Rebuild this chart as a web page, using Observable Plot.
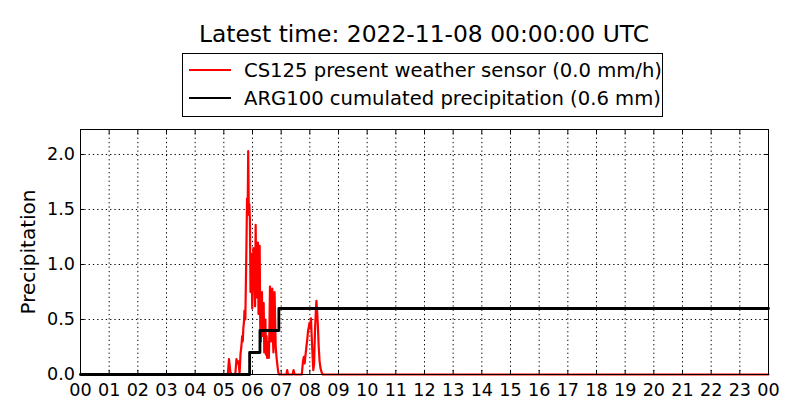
<!DOCTYPE html>
<html>
<head>
<meta charset="utf-8">
<script src="https://cdn.jsdelivr.net/npm/d3@7"></script>
<script src="https://cdn.jsdelivr.net/npm/@observablehq/plot@0.6"></script>
<style>
  body { margin: 0; background: #fff; font-family: "DejaVu Sans", sans-serif; }
  #wrap { position: relative; width: 800px; height: 420px; overflow: hidden; }
  #title { position: absolute; left: 80px; width: 688px; top: 20px; text-align: center; font-size: 23.4px; color: #000; white-space: nowrap; }
  #legend { position: absolute; left: 182px; top: 53px; width: 479px; height: 62px; border: 1px solid #000; background: #fff; }
  .row { position: absolute; left: 0; height: 28px; font-size: 19.6px; white-space: nowrap; display: flex; align-items: center; }
  .sw { width: 42px; height: 2.6px; margin-left: 6px; margin-right: 13px; }
  #chart { position: absolute; left: 0; top: 120px; }
</style>
</head>
<body>
<div id="wrap">
  <div id="title"></div>
  <div id="legend"></div>
  <div id="chart"></div>
</div>
<script>
const titleText = "Latest time: 2022-11-08 00:00:00 UTC";
const seriesNames = ["CS125 present weather sensor (0.0 mm/h)", "ARG100 cumulated precipitation (0.6 mm)"];
const seriesColors = ["red", "black"];
const yLabel = "Precipitation";
const xTicks = d3.range(0, 25);
const yTicks = [0, 0.5, 1.0, 1.5, 2.0];

// CS125 present weather sensor intensity (mm/h), hour of day
const redHours = [0, 5.14, 5.18, 5.23, 5.28, 5.40, 5.44, 5.48, 5.51, 5.55, 5.58, 5.61, 5.64, 5.66, 5.68, 5.70, 5.72, 5.75, 5.77, 5.79, 5.81, 5.83, 5.85, 5.87, 5.89, 5.91, 5.93, 5.95, 5.97, 5.99, 6.01, 6.03, 6.05, 6.07, 6.09, 6.11, 6.13, 6.15, 6.17, 6.19, 6.21, 6.23, 6.25, 6.27, 6.29, 6.31, 6.33, 6.35, 6.37, 6.39, 6.41, 6.43, 6.45, 6.47, 6.49, 6.51, 6.53, 6.55, 6.57, 6.59, 6.61, 6.63, 6.65, 6.67, 6.69, 6.71, 6.73, 6.75, 6.77, 6.79, 6.81, 6.84, 6.87, 6.90, 6.93, 7.18, 7.21, 7.24, 7.40, 7.43, 7.47, 7.72, 7.76, 7.79, 7.82, 7.85, 7.88, 7.91, 7.94, 7.97, 7.99, 8.01, 8.04, 8.06, 8.09, 8.12, 8.15, 8.18, 8.21, 8.23, 8.26, 8.28, 8.31, 8.34, 8.37, 8.41, 8.45, 24];
const redValues = [0, 0, 0.14, 0.02, 0, 0, 0.14, 0.10, 0.12, 0.01, 0.18, 0.25, 0.35, 0.30, 0.42, 0.47, 0.58, 0.50, 0.85, 1.20, 1.60, 1.45, 2.03, 1.50, 1.55, 1.40, 0.75, 1.10, 0.95, 0.60, 0.85, 1.15, 0.80, 0.95, 0.62, 1.36, 0.90, 0.70, 1.05, 1.20, 0.55, 0.85, 1.17, 0.45, 0.30, 0.60, 0.75, 0.35, 0.55, 0.65, 0.20, 0.35, 0.50, 0.18, 0.35, 0.15, 0.30, 0.22, 0.15, 0.40, 0.80, 0.65, 0.30, 0.55, 0.78, 0.35, 0.20, 0.45, 0.75, 0.50, 0.25, 0.15, 0.08, 0.02, 0, 0, 0.04, 0, 0, 0.04, 0, 0, 0.12, 0.16, 0.10, 0.18, 0.25, 0.32, 0.40, 0.44, 0.47, 0.42, 0.51, 0.38, 0.20, 0.04, 0.10, 0.40, 0.58, 0.67, 0.55, 0.45, 0.25, 0.12, 0.06, 0.02, 0, 0];

// ARG100 cumulated precipitation (mm)
const blackHours = [0, 5.90, 6.26, 6.92, 24];
const blackValues = [0, 0.2, 0.4, 0.6, 0.6];

const red = redHours.map((h, i) => ({h, v: redValues[i]}));
const black = blackHours.map((h, i) => ({h, v: blackValues[i]}));

document.getElementById("title").textContent = titleText;
const leg = document.getElementById("legend");
seriesNames.forEach((name, i) => {
  const row = document.createElement("div");
  row.className = "row";
  row.style.top = (2 + i * 28) + "px";
  const sw = document.createElement("div");
  sw.className = "sw";
  sw.style.background = seriesColors[i];
  const t = document.createElement("span");
  t.textContent = name;
  row.appendChild(sw); row.appendChild(t);
  leg.appendChild(row);
});

const fmtX = d => String(d % 24).padStart(2, "0");
const fmtY = d3.format(".1f");
const grid = {stroke: "black", strokeOpacity: 1, strokeWidth: 1, strokeDasharray: "1.3,3"};

const plot = Plot.plot({
  width: 800,
  height: 300,
  marginTop: 9,
  marginBottom: 46,
  marginLeft: 80,
  marginRight: 32,
  style: {fontFamily: "DejaVu Sans", fontSize: "17.6px", color: "black", background: "white"},
  x: {domain: [0, 24]},
  y: {domain: [0, 2.227]},
  marks: [
    Plot.gridX(xTicks.slice(1, -1), grid),
    Plot.gridY(yTicks.slice(1), grid),
    Plot.line(red, {x: "h", y: "v", stroke: seriesColors[0], strokeWidth: 2.2}),
    Plot.line(black, {x: "h", y: "v", stroke: seriesColors[1], strokeWidth: 2.8, curve: "step-after"}),
    Plot.frame({stroke: "black", strokeWidth: 1}),
    Plot.axisX(xTicks, {tickSize: 0, tickPadding: 9, tickFormat: fmtX, label: null, fontSize: 17.6}),
    Plot.axisX(xTicks, {tickSize: -4, tickFormat: () => "", label: null}),
    Plot.axisX(xTicks, {anchor: "top", tickSize: -4, tickFormat: () => "", label: null}),
    Plot.axisY(yTicks, {tickSize: 0, tickPadding: 5.5, tickFormat: fmtY, label: yLabel, labelAnchor: "center", labelArrow: "none", labelOffset: 60, fontSize: 17.6}),
    Plot.axisY(yTicks, {tickSize: -4, tickFormat: () => "", label: null}),
    Plot.axisY(yTicks, {anchor: "right", tickSize: -4, tickFormat: () => "", label: null})
  ]
});
document.getElementById("chart").appendChild(plot);
// y-axis label font size
plot.querySelectorAll("g[aria-label='y-axis label'] text").forEach(t => t.setAttribute("font-size", "20px"));
</script>
</body>
</html>
